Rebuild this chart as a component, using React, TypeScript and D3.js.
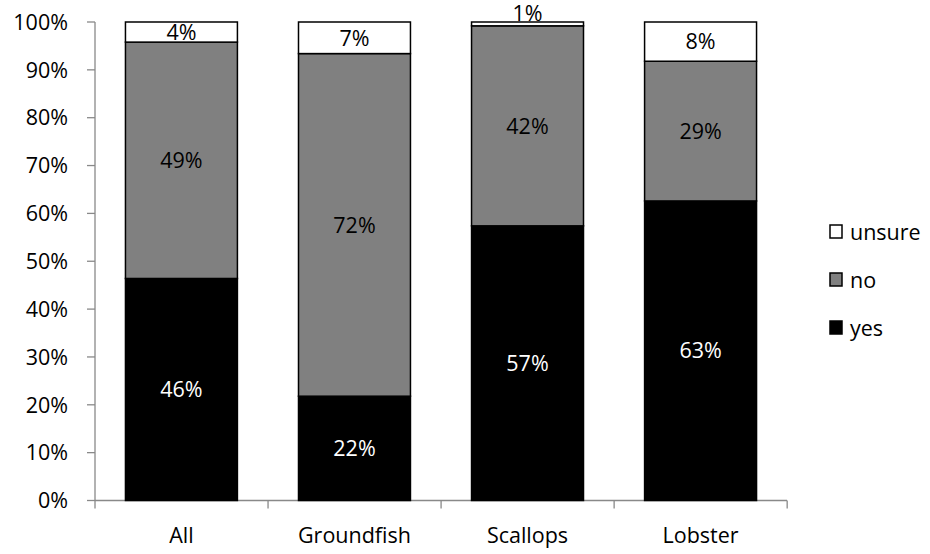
import React from "react";
import * as d3 from "d3";

// Share of responses per fishery group (percent)
const categories = ["All", "Groundfish", "Scallops", "Lobster"];
const yesValues = [46.4, 21.8, 57.4, 62.6];
const noValues = [49.4, 71.6, 41.8, 29.2];
const unsureValues = [4.2, 6.6, 0.8, 8.2];
const seriesNames = ["yes", "no", "unsure"];
const seriesColors = ["#000000", "#808080", "#ffffff"];
const labelColors = ["#ffffff", "#000000", "#000000"];
const yTicks = [0, 10, 20, 30, 40, 50, 60, 70, 80, 90, 100];

const W = 930;
const H = 554;
const FONT = "'Open Sans', sans-serif";
const FS = 21.5;

export default function App() {
  const x0 = 95;
  const x1 = 787;
  const yBottom = 500.5;
  const yTop = 22;

  const x = d3.scaleBand<string>().domain(categories).range([x0, x1]).paddingInner(0.353).paddingOuter(0.176);
  const y = d3.scaleLinear().domain([0, 100]).range([yBottom, yTop]);

  const rows = categories.map((c, i) => ({ cat: c, yes: yesValues[i], no: noValues[i], unsure: unsureValues[i] }));
  const stack = d3.stack<any>().keys(seriesNames)(rows);

  const bw = x.bandwidth();
  const step = x.step();

  return (
    <svg width={W} height={H} style={{ position: "absolute", left: 0, top: 0, background: "#fff" }}>
      {/* y axis */}
      <line x1={x0} x2={x0} y1={yTop} y2={yBottom} stroke="#898989" strokeWidth={1.3} />
      {yTicks.map((t) => (
        <g key={t}>
          <line x1={x0 - 8} x2={x0} y1={y(t)} y2={y(t)} stroke="#898989" strokeWidth={1.3} />
          <text x={x0 - 27} y={y(t)} dy="0.36em" textAnchor="end" fontFamily={FONT} fontSize={FS} fill="#000">
            {t}%
          </text>
        </g>
      ))}
      {/* x axis */}
      <line x1={x0} x2={x1} y1={yBottom} y2={yBottom} stroke="#898989" strokeWidth={1.3} />
      {d3.range(categories.length + 1).map((i) => {
        const tx = x0 + i * step;
        return <line key={i} x1={tx} x2={tx} y1={yBottom} y2={yBottom + 8} stroke="#898989" strokeWidth={1.3} />;
      })}
      {categories.map((c) => (
        <text key={c} x={(x(c) ?? 0) + bw / 2} y={543} textAnchor="middle" fontFamily={FONT} fontSize={FS} fill="#000">
          {c}
        </text>
      ))}

      {/* stacked bars */}
      {stack.map((layer, si) =>
        layer.map((d, i) => {
          const cx = x(categories[i]) ?? 0;
          const top = y(d[1]);
          const bot = y(d[0]);
          return (
            <rect
              key={`${si}-${i}`}
              x={cx}
              y={top}
              width={bw}
              height={bot - top}
              fill={seriesColors[si]}
              stroke="#000"
              strokeWidth={1.5}
            />
          );
        })
      )}
      {stack.map((layer, si) =>
        layer.map((d, i) => {
          const cx = (x(categories[i]) ?? 0) + bw / 2;
          const v = d[1] - d[0];
          const segH = y(d[0]) - y(d[1]);
          // tiny segments: label sits just above the segment
          const tiny = segH < 8;
          return (
            <text
              key={`l-${si}-${i}`}
              x={cx}
              y={tiny ? y(d[1]) - 1 : y((d[0] + d[1]) / 2)}
              dy={tiny ? "0" : "0.36em"}
              textAnchor="middle"
              fontFamily={FONT}
              fontSize={FS}
              fill={labelColors[si]}
            >
              {Math.round(v)}%
            </text>
          );
        })
      )}

      {/* legend */}
      {[2, 1, 0].map((si, k) => {
        const ly = 232 + k * 48;
        return (
          <g key={si}>
            <rect x={830} y={ly - 7} width={12} height={13} fill={seriesColors[si]} stroke="#000" strokeWidth={1.5} />
            <text x={850} y={ly} dy="0.36em" fontFamily={FONT} fontSize={FS} fill="#000">
              {seriesNames[si]}
            </text>
          </g>
        );
      })}
    </svg>
  );
}
